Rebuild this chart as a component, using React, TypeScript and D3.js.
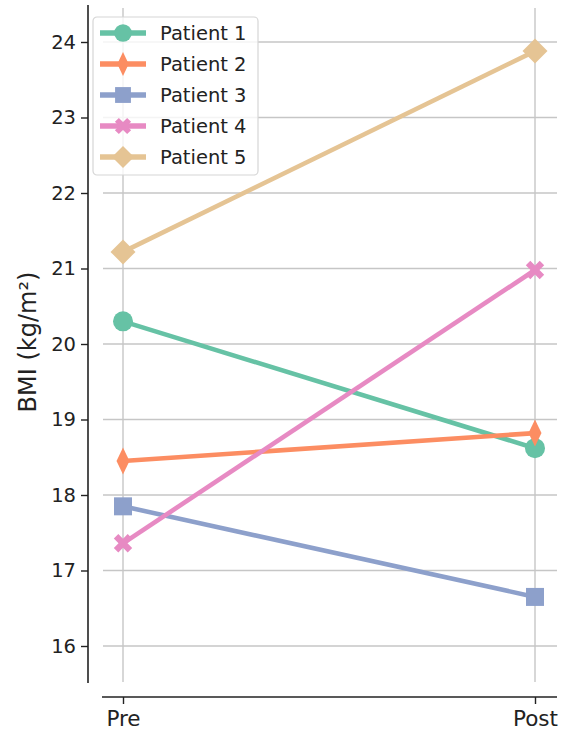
import React, { useRef, useEffect } from 'react';
import * as d3 from 'd3';

const stages = ['Pre', 'Post'];
const patients = ['Patient 1', 'Patient 2', 'Patient 3', 'Patient 4', 'Patient 5'];
const bmiPre = [20.3, 18.45, 17.85, 17.36, 21.22];
const bmiPost = [18.62, 18.82, 16.65, 20.98, 23.88];
const colors = ['#66c2a5', '#fc8d62', '#8da0cb', '#e78ac3', '#e5c494'];
const markers = ['circle', 'thinDiamond', 'square', 'x', 'diamond'];
const yTicks = [16, 17, 18, 19, 20, 21, 22, 23, 24];

const W = 569;
const H = 735;
const font = 'DejaVu Sans, sans-serif';

// marker outline, s = nominal half size in px
function markerPath(kind: string, s: number) {
  switch (kind) {
    case 'circle':
      return d3.symbol(d3.symbolCircle, Math.PI * s * s)()!;
    case 'square': {
      const h = s * 0.9;
      return `M${-h},${-h}H${h}V${h}H${-h}Z`;
    }
    case 'diamond': {
      const r = s * 1.25;
      return `M0,${-r}L${r},0L0,${r}L${-r},0Z`;
    }
    case 'thinDiamond': {
      const r = s * 1.35;
      return `M0,${-r}L${r * 0.48},0L0,${r}L${-r * 0.48},0Z`;
    }
    case 'x': {
      const a = s * 0.92;
      const t = s * 0.45;
      return `M${-a + t},${-a}L0,${-t}L${a - t},${-a}L${a},${-a + t}L${t},0L${a},${a - t}L${a - t},${a}L0,${t}L${-a + t},${a}L${-a},${a - t}L${-t},0L${-a},${-a + t}Z`;
    }
  }
  return '';
}

export default function App() {
  const ref = useRef<SVGSVGElement>(null);

  useEffect(() => {
    const svg = d3.select(ref.current);
    svg.selectAll('*').remove();

    const plot = { left: 103, right: 557, top: 8, bottom: 682 };
    const x = d3.scalePoint<string>().domain(stages).range([123, 535]);
    const y = d3.scaleLinear().domain([16, 24]).range([646, 42]);

    // grid
    const grid = svg.append('g');
    yTicks.forEach(t => {
      grid.append('line')
        .attr('x1', plot.left).attr('x2', plot.right)
        .attr('y1', y(t)).attr('y2', y(t))
        .attr('stroke', '#c6c6c6').attr('stroke-width', 1.4);
    });
    stages.forEach(s => {
      grid.append('line')
        .attr('x1', x(s)!).attr('x2', x(s)!)
        .attr('y1', plot.top).attr('y2', plot.bottom)
        .attr('stroke', '#c6c6c6').attr('stroke-width', 1.4);
    });

    // left axis, offset from the plot
    const yAxis = svg.append('g')
      .attr('transform', 'translate(88,0)')
      .call(d3.axisLeft(y).tickValues(yTicks).tickSize(7).tickPadding(5).tickFormat(d3.format('d')));
    yAxis.select('.domain').attr('d', `M0,${plot.top - 3}V${plot.bottom + 1}`).attr('stroke', '#222').attr('stroke-width', 1.6);
    yAxis.selectAll('.tick line').attr('stroke', '#222').attr('stroke-width', 1.4);
    yAxis.selectAll('.tick text').attr('font-size', 19.5).attr('font-family', font).attr('fill', '#222');

    // bottom axis, offset from the plot
    const xAxis = svg.append('g')
      .attr('transform', 'translate(0,697)')
      .call(d3.axisBottom(x).tickSize(7).tickPadding(7));
    xAxis.select('.domain').attr('d', `M${plot.left - 1},0H${plot.right}`).attr('stroke', '#222').attr('stroke-width', 1.6);
    xAxis.selectAll('.tick line').attr('stroke', '#222').attr('stroke-width', 1.4);
    xAxis.selectAll('.tick text').attr('font-size', 21.5).attr('font-family', font).attr('fill', '#222');

    // y label
    svg.append('text')
      .attr('transform', `translate(36,342) rotate(-90)`)
      .attr('text-anchor', 'middle')
      .attr('font-size', 24).attr('font-family', font).attr('fill', '#222')
      .text('BMI (kg/m²)');

    // lines + markers
    const line = d3.line<[string, number]>().x(d => x(d[0])!).y(d => y(d[1]));
    patients.forEach((p, i) => {
      const pts: [string, number][] = [['Pre', bmiPre[i]], ['Post', bmiPost[i]]];
      svg.append('path')
        .attr('d', line(pts)!)
        .attr('fill', 'none')
        .attr('stroke', colors[i])
        .attr('stroke-width', 4.6);
      pts.forEach(d => {
        svg.append('path')
          .attr('transform', `translate(${x(d[0])},${y(d[1])})`)
          .attr('d', markerPath(markers[i], 10))
          .attr('fill', colors[i]);
      });
    });

    // legend
    const lg = svg.append('g').attr('transform', 'translate(93,17)');
    lg.append('rect')
      .attr('width', 165).attr('height', 158).attr('rx', 4)
      .attr('fill', 'white').attr('fill-opacity', 0.8)
      .attr('stroke', '#d6d6d6').attr('stroke-width', 1.2);
    patients.forEach((p, i) => {
      const cy = 16 + i * 31;
      lg.append('line')
        .attr('x1', 7).attr('x2', 53).attr('y1', cy).attr('y2', cy)
        .attr('stroke', colors[i]).attr('stroke-width', 5.5);
      lg.append('path')
        .attr('transform', `translate(30,${cy})`)
        .attr('d', markerPath(markers[i], 8.8))
        .attr('fill', colors[i]);
      lg.append('text')
        .attr('x', 67).attr('y', cy)
        .attr('dy', '0.36em')
        .attr('font-size', 19.5).attr('font-family', font).attr('fill', '#222')
        .text(p);
    });
  }, []);

  return <svg ref={ref} width={W} height={H} style={{ display: 'block', position: 'absolute', left: 0, top: 0 }} />;
}
